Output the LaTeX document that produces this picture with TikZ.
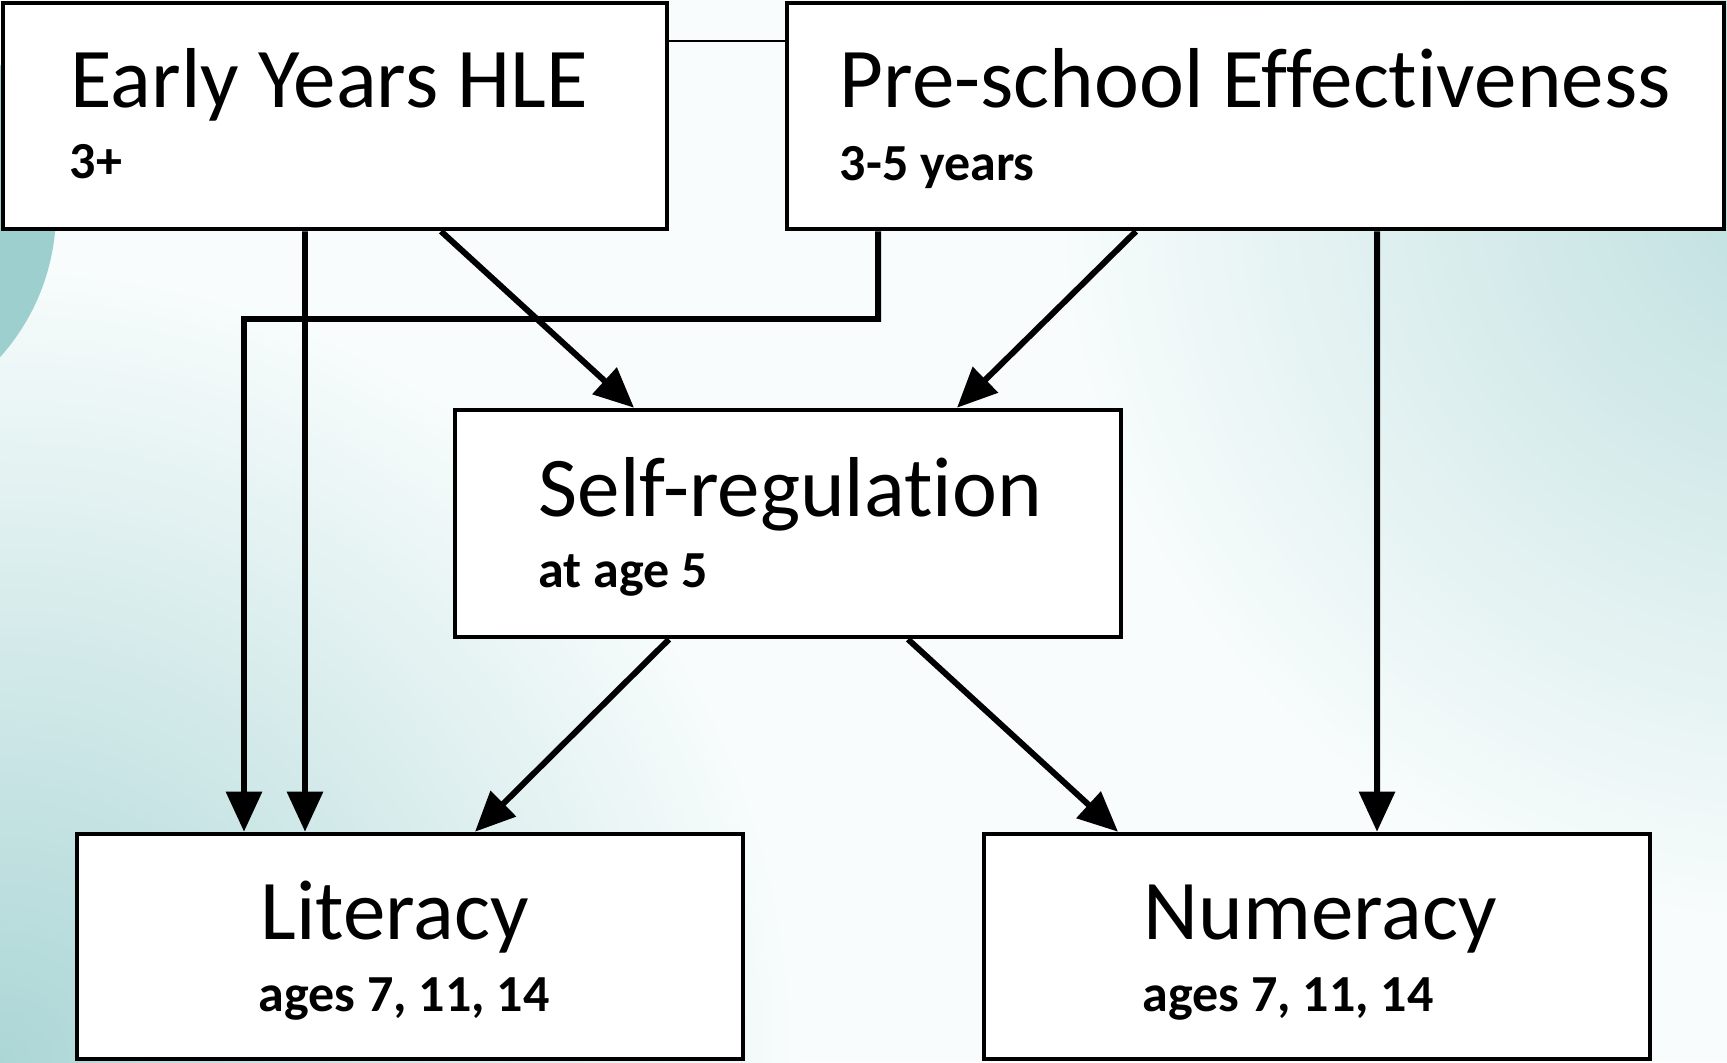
\documentclass[tikz,border=0pt]{standalone}
\usepackage{fontspec}
\setmainfont{Carlito}[Ligatures=NoCommon]
\usetikzlibrary{arrows.meta}

\definecolor{bgpale}{RGB}{248,252,252}
\definecolor{bgteal}{RGB}{172,214,214}
\definecolor{bgtealtop}{RGB}{190,223,223}
\definecolor{blobteal}{RGB}{157,207,207}

\tikzset{
  box/.style={draw, line width=1.3pt, fill=white, inner sep=0pt},
  title/.style={anchor=base west, inner sep=0pt, font=\fontsize{24.2}{29}\selectfont},
  sub/.style={anchor=base west, inner sep=0pt, font=\bfseries\fontsize{14.8}{18}\selectfont},
  link/.style={line width=1.7pt, -{Triangle[length=4mm,width=3.5mm]}},
}

\begin{document}
\begin{tikzpicture}
\useasboundingbox (0,0) rectangle (17.27,-10.62);

% background
\fill[bgpale] (0,0) rectangle (17.27,-10.62);
\shade[inner color=bgteal, outer color=bgpale] (0,-10.62) circle (8);
\shade[inner color=bgtealtop, outer color=bgpale] (18,-1.8) circle (7.5);
\fill[blobteal] (-1.63,-2.11) circle (2.19);

% boxes
\node[box, minimum width=6.64cm, minimum height=2.26cm] (hle) at (3.35,-1.16) {};
\node[box, minimum width=9.37cm, minimum height=2.26cm] (pse) at (12.555,-1.16) {};
\node[box, minimum width=6.66cm, minimum height=2.27cm] (sr) at (7.88,-5.235) {};
\node[box, minimum width=6.66cm, minimum height=2.25cm] (lit) at (4.10,-9.465) {};
\node[box, minimum width=6.66cm, minimum height=2.25cm] (num) at (13.17,-9.465) {};

\node[title] (hlet) at (0.70,-1.07) {Early Years HLE};
\node[sub] (hles) at (0.69,-1.78) {3+};
\node[title] (pset) at (8.39,-1.07) {Pre-school Effectiveness};
\node[sub] (pses) at (8.39,-1.80) {3-5 years};
\node[title] (srt) at (5.38,-5.16) {Self-regulation};
\node[sub] (srs) at (5.38,-5.87) {at age 5};
\node[title] (litt) at (2.60,-9.39) {Literacy};
\node[sub] (lits) at (2.58,-10.11) {ages 7, 11, 14};
\node[title] (numt) at (11.43,-9.39) {Numeracy};
\node[sub] (nums) at (11.42,-10.11) {ages 7, 11, 14};

% links
\draw[line width=0.5pt] ([yshift=0.75cm]hle.east) -- ([yshift=0.75cm]pse.west);

\coordinate (bend) at (2.44,-3.19);
\draw[link] ([xshift=-0.30cm]hle.south) -- ([xshift=-1.05cm]lit.north);
\draw[link] ([xshift=-3.775cm]pse.south) |- (bend) -- ([xshift=-1.66cm]lit.north);
\draw[link] ([xshift=1.06cm]hle.south) -- ([xshift=-1.54cm]sr.north);
\draw[link] ([xshift=-1.195cm]pse.south) -- ([xshift=1.69cm]sr.north);
\draw[link] ([xshift=1.215cm]pse.south) -- ([xshift=0.60cm]num.north);
\draw[link] ([xshift=-1.19cm]sr.south) -- ([xshift=0.65cm]lit.north);
\draw[link] ([xshift=1.20cm]sr.south) -- ([xshift=-1.99cm]num.north);
\end{tikzpicture}
\end{document}
